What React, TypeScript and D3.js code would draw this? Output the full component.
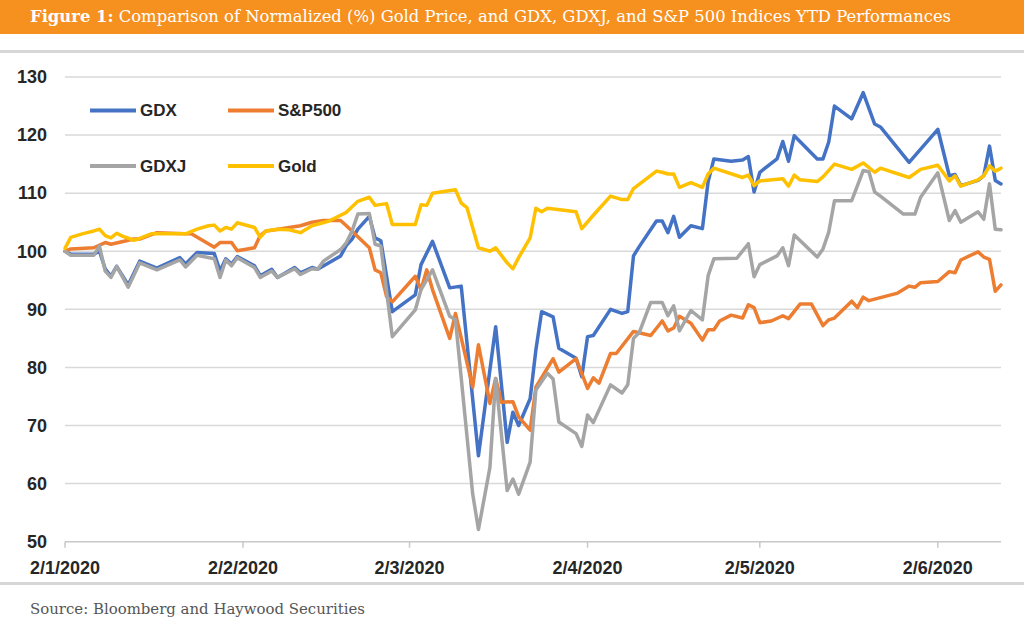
import React from "react";
import * as d3 from "d3";

const titleBold = "Figure 1:";
const titleRest = " Comparison of Normalized (%) Gold Price, and GDX, GDXJ, and S&P 500 Indices YTD Performances";
const sourceText = "Source: Bloomberg and Haywood Securities";

const yTicks = [50, 60, 70, 80, 90, 100, 110, 120, 130];
const xTickDates = ["01-02", "02-02", "03-02", "04-02", "05-02", "06-02"];
const xTickLabels = ["2/1/2020", "2/2/2020", "2/3/2020", "2/4/2020", "2/5/2020", "2/6/2020"];
const domainDates = ["01-02", "06-13"];

const seriesNames = ["GDX", "S&P500", "GDXJ", "Gold"];
const seriesColors = ["#4472C4", "#ED7D31", "#A5A5A5", "#FFC000"];

const gdx: [string, number][] = [
  ["01-02", 100], ["01-03", 99.5], ["01-07", 99.5], ["01-08", 100.0], ["01-09", 97.0], ["01-10", 95.7], ["01-11", 97.4], ["01-13", 94.2], ["01-15", 98.3], ["01-18", 97.1], ["01-22", 98.9], ["01-23", 97.8], ["01-25", 99.8], ["01-28", 99.6], ["01-29", 96.6], ["01-30", 98.7], ["01-31", 97.8], ["02-01", 99.1], ["02-04", 97.5], ["02-05", 95.8], ["02-07", 96.9], ["02-08", 95.5], ["02-11", 97.2], ["02-12", 96.3], ["02-14", 97.2], ["02-15", 96.9], ["02-19", 99.2], ["02-20", 101.0], ["02-21", 102.1], ["02-22", 103.8], ["02-24", 106.0], ["02-25", 102.3], ["02-26", 101.8], ["02-28", 89.6], ["03-03", 92.5], ["03-04", 97.7], ["03-06", 101.7], ["03-09", 93.7], ["03-11", 94.0], ["03-14", 64.8], ["03-17", 87.0], ["03-19", 67.1], ["03-20", 72.3], ["03-21", 70.0], ["03-23", 74.6], ["03-24", 83.0], ["03-25", 89.6], ["03-27", 88.7], ["03-28", 83.3], ["03-31", 81.6], ["04-01", 78.4], ["04-02", 85.3], ["04-03", 85.5], ["04-06", 90.0], ["04-08", 89.3], ["04-09", 89.6], ["04-10", 99.2], ["04-11", 100.8], ["04-14", 105.2], ["04-15", 105.2], ["04-16", 103.2], ["04-17", 106.0], ["04-18", 102.4], ["04-20", 104.4], ["04-22", 103.9], ["04-23", 112.0], ["04-24", 115.9], ["04-27", 115.5], ["04-29", 115.7], ["04-30", 116.3], ["05-01", 110.2], ["05-02", 113.6], ["05-05", 115.9], ["05-06", 118.9], ["05-07", 115.5], ["05-08", 119.9], ["05-12", 115.9], ["05-13", 115.9], ["05-14", 118.8], ["05-15", 125.0], ["05-18", 122.8], ["05-20", 127.3], ["05-22", 121.9], ["05-23", 121.4], ["05-28", 115.3], ["06-02", 121.0], ["06-04", 113.0], ["06-05", 113.2], ["06-06", 111.3], ["06-09", 112.2], ["06-10", 113.0], ["06-11", 118.1], ["06-12", 112.2], ["06-13", 111.6],
];

const sp500: [string, number][] = [
  ["01-02", 100], ["01-03", 100.4], ["01-07", 100.6], ["01-09", 101.5], ["01-10", 101.2], ["01-14", 102.1], ["01-15", 102.1], ["01-18", 103.2], ["01-23", 103.0], ["01-24", 103.0], ["01-28", 100.7], ["01-29", 101.5], ["01-31", 101.5], ["02-01", 100.1], ["02-04", 100.6], ["02-05", 102.7], ["02-06", 103.5], ["02-07", 103.6], ["02-12", 104.4], ["02-14", 105.0], ["02-16", 105.3], ["02-19", 105.3], ["02-20", 104.4], ["02-22", 102.5], ["02-24", 100.6], ["02-25", 96.8], ["02-26", 96.3], ["02-27", 92.2], ["02-28", 91.3], ["03-03", 95.7], ["03-04", 93.4], ["03-05", 96.8], ["03-06", 93.4], ["03-09", 85.0], ["03-10", 89.3], ["03-13", 76.6], ["03-14", 83.9], ["03-16", 73.8], ["03-17", 78.1], ["03-18", 74.0], ["03-20", 74.1], ["03-21", 71.5], ["03-23", 69.2], ["03-24", 76.6], ["03-27", 81.5], ["03-28", 79.2], ["03-31", 81.5], ["04-02", 76.4], ["04-03", 78.2], ["04-04", 77.3], ["04-06", 82.4], ["04-07", 82.4], ["04-10", 86.2], ["04-13", 85.5], ["04-15", 88.0], ["04-16", 86.3], ["04-17", 86.8], ["04-18", 88.8], ["04-20", 87.6], ["04-22", 84.7], ["04-23", 86.5], ["04-24", 86.5], ["04-25", 88.0], ["04-27", 89.0], ["04-29", 88.5], ["04-30", 90.8], ["05-01", 90.3], ["05-02", 87.7], ["05-04", 88.0], ["05-06", 88.9], ["05-07", 88.4], ["05-09", 90.9], ["05-11", 90.9], ["05-13", 87.2], ["05-14", 88.2], ["05-15", 88.5], ["05-18", 91.4], ["05-19", 90.3], ["05-20", 92.1], ["05-21", 91.5], ["05-26", 92.8], ["05-28", 94.0], ["05-29", 93.8], ["05-30", 94.6], ["06-02", 94.8], ["06-04", 96.5], ["06-05", 96.3], ["06-06", 98.5], ["06-09", 99.9], ["06-10", 99.0], ["06-11", 98.6], ["06-12", 93.1], ["06-13", 94.2],
];

const gdxj: [string, number][] = [
  ["01-02", 100], ["01-03", 99.3], ["01-07", 99.3], ["01-08", 100.9], ["01-09", 96.6], ["01-10", 95.5], ["01-11", 97.4], ["01-13", 93.8], ["01-15", 98.0], ["01-18", 96.8], ["01-22", 98.5], ["01-23", 97.3], ["01-25", 99.3], ["01-28", 98.7], ["01-29", 95.5], ["01-30", 98.5], ["01-31", 97.5], ["02-01", 98.9], ["02-04", 97.2], ["02-05", 95.5], ["02-07", 96.6], ["02-08", 95.5], ["02-11", 97.0], ["02-12", 96.0], ["02-14", 97.0], ["02-15", 96.9], ["02-16", 98.3], ["02-19", 100.3], ["02-20", 101.5], ["02-21", 103.5], ["02-22", 106.4], ["02-24", 106.5], ["02-25", 101.2], ["02-26", 100.9], ["02-28", 85.3], ["03-03", 89.9], ["03-04", 93.4], ["03-06", 96.8], ["03-09", 88.8], ["03-10", 88.2], ["03-13", 58.2], ["03-14", 52.1], ["03-16", 62.8], ["03-17", 78.1], ["03-19", 58.8], ["03-20", 60.8], ["03-21", 58.2], ["03-23", 63.7], ["03-24", 76.1], ["03-26", 79.0], ["03-27", 78.0], ["03-28", 70.6], ["03-31", 68.6], ["04-01", 66.4], ["04-02", 71.8], ["04-03", 70.5], ["04-06", 77.0], ["04-08", 75.6], ["04-09", 77.0], ["04-10", 85.0], ["04-11", 86.0], ["04-13", 91.2], ["04-15", 91.2], ["04-16", 88.9], ["04-17", 90.6], ["04-18", 86.3], ["04-20", 89.8], ["04-22", 88.2], ["04-23", 95.8], ["04-24", 98.7], ["04-28", 98.8], ["04-30", 101.3], ["05-01", 95.6], ["05-02", 97.7], ["05-05", 99.2], ["05-06", 100.6], ["05-07", 97.5], ["05-08", 102.8], ["05-12", 99.0], ["05-13", 100.4], ["05-14", 103.3], ["05-15", 108.7], ["05-18", 108.7], ["05-20", 113.9], ["05-21", 113.7], ["05-22", 110.2], ["05-23", 109.5], ["05-27", 106.4], ["05-29", 106.4], ["05-30", 109.3], ["06-02", 113.5], ["06-04", 105.3], ["06-05", 107.0], ["06-06", 105.0], ["06-09", 106.8], ["06-10", 105.5], ["06-11", 111.6], ["06-12", 103.8], ["06-13", 103.7],
];

const gold: [string, number][] = [
  ["01-02", 100.5], ["01-03", 102.4], ["01-05", 103.0], ["01-07", 103.5], ["01-08", 103.8], ["01-09", 102.7], ["01-10", 102.3], ["01-11", 103.1], ["01-12", 102.6], ["01-14", 101.9], ["01-15", 102.2], ["01-17", 103.0], ["01-23", 103.0], ["01-25", 103.8], ["01-27", 104.4], ["01-28", 104.5], ["01-29", 103.5], ["01-30", 104.1], ["01-31", 103.8], ["02-01", 104.9], ["02-04", 104.1], ["02-05", 102.4], ["02-06", 103.5], ["02-08", 103.8], ["02-10", 103.7], ["02-12", 103.2], ["02-14", 104.4], ["02-17", 105.2], ["02-20", 106.7], ["02-22", 108.6], ["02-24", 109.3], ["02-25", 107.9], ["02-27", 108.2], ["02-28", 104.6], ["03-03", 104.6], ["03-04", 108.0], ["03-05", 107.9], ["03-06", 110.0], ["03-10", 110.6], ["03-11", 108.3], ["03-12", 107.5], ["03-14", 100.6], ["03-16", 100.0], ["03-17", 100.6], ["03-19", 98.0], ["03-20", 97.0], ["03-21", 98.9], ["03-23", 102.3], ["03-24", 107.4], ["03-25", 106.8], ["03-26", 107.4], ["03-31", 106.8], ["04-01", 103.9], ["04-03", 106.2], ["04-06", 109.5], ["04-08", 108.9], ["04-09", 108.9], ["04-10", 110.8], ["04-14", 113.8], ["04-15", 113.6], ["04-16", 113.3], ["04-17", 113.3], ["04-18", 111.0], ["04-20", 111.8], ["04-22", 111.0], ["04-23", 113.3], ["04-24", 114.3], ["04-29", 112.7], ["04-30", 113.1], ["05-01", 111.3], ["05-02", 112.1], ["05-06", 112.5], ["05-07", 111.2], ["05-08", 113.1], ["05-09", 112.3], ["05-12", 112.0], ["05-13", 112.8], ["05-15", 115.0], ["05-18", 114.1], ["05-20", 115.2], ["05-22", 113.6], ["05-23", 114.3], ["05-28", 112.7], ["05-30", 114.1], ["06-02", 114.8], ["06-04", 112.1], ["06-05", 113.0], ["06-06", 111.2], ["06-09", 112.3], ["06-10", 113.0], ["06-11", 114.7], ["06-12", 113.8], ["06-13", 114.3],
];

const seriesData = [gdx, sp500, gdxj, gold];

const W = 1024;
const H = 627;
const plot = { left: 65, right: 1001, top: 77, bottom: 541.7 };

const parse = (s: string) => new Date(`2020-${s}T00:00:00`);

export default function App() {
  const x = d3
    .scaleTime()
    .domain(domainDates.map(parse))
    .range([plot.left, plot.right]);
  const y = d3.scaleLinear().domain([50, 130]).range([plot.bottom, plot.top]);
  const line = d3
    .line<[string, number]>()
    .x((d) => x(parse(d[0])))
    .y((d) => y(d[1]));

  const legendItems = seriesNames.map((name, i) => ({
    name,
    color: seriesColors[i],
    col: i % 2,
    row: Math.floor(i / 2),
  }));

  return (
    <div style={{ position: "absolute", left: 0, top: 0 }}>
      <svg width={W} height={H} style={{ display: "block", background: "#fff" }}>
        <rect x={0} y={0} width={W} height={34} fill="#F6901E" />
        <text
          x={30}
          y={22}
          fill="#fff"
          fontFamily="'DejaVu Serif', serif"
          fontSize={16.5}
          textLength={921}
          lengthAdjust="spacingAndGlyphs"
        >
          <tspan fontWeight="bold">{titleBold}</tspan>
          <tspan>{titleRest}</tspan>
        </text>
        <rect x={0} y={50} width={W} height={3} fill="#D6D6D6" />

        {yTicks.map((t) => (
          <g key={t}>
            <line
              x1={plot.left}
              x2={plot.right}
              y1={y(t)}
              y2={y(t)}
              stroke={t === 50 ? "#C8C8C8" : "#D9D9D9"}
              strokeWidth={1.5}
            />
            <text
              x={47}
              y={y(t)}
              dy="0.35em"
              textAnchor="end"
              fontFamily="'Liberation Sans', Arial, sans-serif"
              fontWeight="bold"
              fontSize={18}
              fill="#262626"
            >
              {t}
            </text>
          </g>
        ))}

        {xTickDates.map((d, i) => (
          <g key={d}>
            <line
              x1={x(parse(d))}
              x2={x(parse(d))}
              y1={plot.bottom}
              y2={plot.bottom + 6}
              stroke="#C8C8C8"
              strokeWidth={1.5}
            />
            <text
              x={x(parse(d))}
              y={574}
              textAnchor="middle"
              fontFamily="'Liberation Sans', Arial, sans-serif"
              fontWeight="bold"
              fontSize={18}
              fill="#262626"
            >
              {xTickLabels[i]}
            </text>
          </g>
        ))}

        {seriesData.map((s, i) => (
          <path
            key={seriesNames[i]}
            d={line(s) || ""}
            fill="none"
            stroke={seriesColors[i]}
            strokeWidth={3.5}
            strokeLinejoin="round"
            strokeLinecap="round"
          />
        ))}

        {legendItems.map((it) => {
          const lx = 90 + it.col * 138;
          const ly = 110.5 + it.row * 55.5;
          return (
            <g key={it.name}>
              <line x1={lx} x2={lx + 46} y1={ly} y2={ly} stroke={it.color} strokeWidth={4} />
              <text
                x={lx + 50}
                y={ly}
                dy="0.35em"
                fontFamily="'Liberation Sans', Arial, sans-serif"
                fontWeight="bold"
                fontSize={17}
                fill="#262626"
              >
                {it.name}
              </text>
            </g>
          );
        })}

        <rect x={0} y={582} width={W} height={3} fill="#D6D6D6" />
        <text
          x={30}
          y={614}
          fill="#555"
          fontFamily="'DejaVu Serif', serif"
          fontSize={14}
          textLength={335}
          lengthAdjust="spacingAndGlyphs"
        >
          {sourceText}
        </text>
      </svg>
    </div>
  );
}
